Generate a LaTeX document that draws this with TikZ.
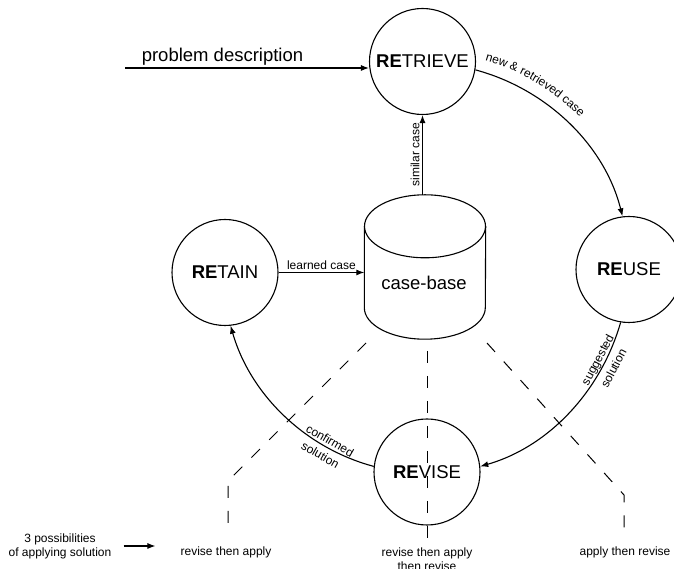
\documentclass[tikz,border=0pt]{standalone}
\usepackage{fontspec}
\setmainfont{Liberation Sans}
\usetikzlibrary{arrows.meta,decorations.text,calc}
\newcommand\lblfont{\fontsize{12}{14}\selectfont}
\newcommand\bigfont{\fontsize{18.5}{22}\selectfont}
\begin{document}
\begin{tikzpicture}[x=1pt,y=1pt,
  stage/.style={circle, draw, line width=1.1pt, minimum size=106pt, inner sep=0pt, font=\bigfont},
  flow/.style={line width=1.1pt, -{Latex[length=8pt,width=6pt]}},
  guide/.style={line width=1pt, dash pattern=on 12pt off 13pt},
  lbl/.style={font=\lblfont, inner sep=1pt},
]
\useasboundingbox (0,0) rectangle (674,569);
\coordinate (C) at (425,301);

% dashed guide lines
\coordinate (dl0) at (366,226); \coordinate (dl1) at (228,88); \coordinate (dl2) at (228,41);
\coordinate (dm0) at (427,218); \coordinate (dm1) at (427,29);
\coordinate (dr0) at (487,226); \coordinate (dr1) at (624,74); \coordinate (dr2) at (624,31);
\draw[guide] (dl0) -- (dl1) -- (dl2);
\draw[guide] (dm0) -- (dm1);
\draw[guide] (dr0) -- (dr1) -- (dr2);

% stages
\node[stage] (retrieve) at (422.5,507.5) {\textbf{RE}TRIEVE};
\node[stage] (reuse) at (629,299.5) {\textbf{RE}USE};
\node[stage] (revise) at (427,97) {\textbf{RE}VISE};
\node[stage] (retain) at (225,296.5) {\textbf{RE}TAIN};

% case-base cylinder
\node[minimum width=121pt, minimum height=144pt, inner sep=0pt] (cb) at (425,302) {};
\draw[line width=1.1pt] ($(cb.north)+(0,-31.5)$) ellipse[x radius=60.5, y radius=31.5];
\draw[line width=1.1pt] ($(cb.north west)+(0,-31.5)$) -- ($(cb.south west)+(0,31.5)$)
  arc[start angle=180, end angle=360, x radius=60.5, y radius=31.5] -- ($(cb.north east)+(0,-31.5)$);
\node[font=\bigfont] (cbtext) at (424,286) {case-base};

% problem description
\coordinate (pd) at (125,501);
\draw[flow] (pd) -- (pd -| retrieve.west);
\node[font=\bigfont, anchor=base] (pdl) at (222.5,507.5) {problem description};

% straight arrows
\draw[flow] (retrieve.south |- cb.north) -- (retrieve.south)
  node[lbl, midway, rotate=90, anchor=south, inner sep=2.5pt] (sc) {similar case};
\draw[flow] (retain.east) -- (retain.east -| cb.west)
  node[lbl, midway, anchor=south, inner sep=2.5pt] (lc) {learned case};

% cycle arcs
\draw[flow] (retrieve.-9) to[out=-15, in=104, looseness=0.91] (reuse.97);
\draw[flow] (reuse.-99) to[out=-106, in=16, looseness=0.91] (revise.6);
\draw[flow] (revise.174) to[out=165, in=-74, looseness=0.91] (retain.-84);

% arc labels
\path[decorate, decoration={text along path, text align=center,
  text={|\lblfont|new {\&} retrieved case}}]
  ($(C)+(76:216)$) arc[start angle=76, end angle=42, radius=216];
\coordinate (sp) at ($(C)+(-28:205)$);
\node[lbl, rotate=62] (ss1) at ($(sp)+(152:8.5)$) {suggested};
\node[lbl, rotate=62] (ss2) at ($(sp)+(-28:8.5)$) {solution};
\coordinate (cp) at ($(C)+(-118.8:205)$);
\node[lbl, rotate=-30] (cs1) at ($(cp)+(61.2:8)$) {confirmed};
\node[lbl, rotate=-30] (cs2) at ($(cp)+(-118.8:8)+(-2,0)$) {solution};

% bottom row
\node[lbl, align=center] (poss) at (60,23) {3 possibilities\\of applying solution};
\node[lbl] (opt1) at (226,17) {revise then apply};
\node[lbl, align=center, anchor=north] (opt2) at (427,22.5) {revise then apply\\then revise};
\node[lbl] (opt3) at (625,17) {apply then revise};
\draw[flow, shorten <=11pt, shorten >=24pt] (poss.east) -- (poss.east -| opt1.west);
\end{tikzpicture}
\end{document}
